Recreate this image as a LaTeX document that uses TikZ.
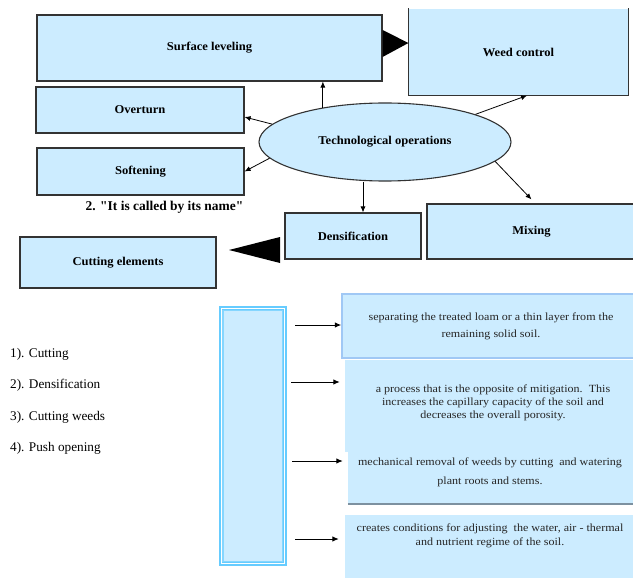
\documentclass[tikz,border=0pt]{standalone}
\usepackage{fontspec}
\setmainfont{Liberation Serif}
\usetikzlibrary{arrows.meta}
\usetikzlibrary{shapes.geometric}
\usepackage{xcolor}
\definecolor{skyFill}{RGB}{204,236,255}
\definecolor{frameBlue}{RGB}{102,204,255}
\definecolor{edgeBlue}{RGB}{160,200,245}
\definecolor{shadeGray}{RGB}{125,145,160}

\begin{document}
\begin{tikzpicture}[x=1bp,y=-1bp,
    opbox/.style={draw=black!80, line width=1.1bp, fill=skyFill, inner sep=0pt,
        font=\bfseries\fontsize{12}{14}\selectfont\addfontfeature{FakeStretch=1.05}},
    thinarr/.style={-{Latex[length=6bp,width=5bp]}, line width=0.8bp},
    listarr/.style={-{Latex[length=6.5bp,width=5.5bp]}, line width=1bp},
    desc/.style={fill=skyFill, inner sep=0pt},
    desctext/.style={align=center, inner sep=0pt, text=black!85,
        font=\fontsize{11}{13}\selectfont\addfontfeature{FakeStretch=1.1}},
    listtext/.style={anchor=west, inner sep=0pt, font=\fontsize{13.3}{15}\selectfont}]
    \useasboundingbox (0,0) rectangle (633,578);

        % operations
        \node[opbox, minimum width=345bp, minimum height=66bp] (surf) at (209.5,48) {Surface leveling};
        \node[opbox, draw=none, minimum width=219bp, minimum height=86bp] (weed) at (518.5,52) {Weed control};
        \draw[draw=black!80, line width=1.1bp] (weed.north west) -- (weed.south west) -- (weed.south east) -- (weed.north east);
        \node[opbox, minimum width=208bp, minimum height=46bp] (over) at (140,110) {Overturn};
        \node[opbox, minimum width=207bp, minimum height=47bp] (soft) at (140.5,171.5) {Softening};
        \node[opbox, ellipse, minimum width=252bp, minimum height=78bp] (ops) at (385,142) {Technological operations};
        \node[opbox, minimum width=136bp, minimum height=46bp] (dens) at (353,236) {Densification};
        \node[opbox, minimum width=209bp, minimum height=55bp] (mix) at (531.5,231.5) {Mixing};
        \node[opbox, minimum width=196bp, minimum height=51bp] (cut) at (118,262.5) {Cutting elements};
        \node[inner sep=0pt, font=\bfseries\fontsize{13.5}{15}\selectfont] (callname) at (164.5,207) {2. \textquotedbl It is called by its name\textquotedbl};

        % big heads
        \fill (surf.east |- 0,30) -- (surf.east |- 0,57) -- (weed.west |- 0,43) -- cycle;
        \fill (280,237) -- (280,263) -- (229,250) -- cycle;

        \draw[thinarr] (ops.151) -- (ops.151 |- surf.south);
        \draw[thinarr] (ops.171) -- ([yshift=-7bp]over.east);
        \draw[thinarr] (ops.188) -- (soft.east);
        \draw[thinarr] (ops.17) -- ([xshift=8.5bp]weed.south);
        \draw[thinarr] (ops.350) -- ([yshift=4bp]mix.north);
        \coordinate (densTop) at ([xshift=10bp]dens.north);
        \draw[thinarr] (ops.south -| densTop) -- (densTop);

        % list
        \node[listtext] (itemCut) at (10,354) {1). Cutting};
        \node[listtext] (itemDens) at (10,385) {2). Densification};
        \node[listtext] (itemWeeds) at (10,417) {3). Cutting weeds};
        \node[listtext] (itemPush) at (10,448) {4). Push opening};

        \node[draw=frameBlue, line width=4.5bp, fill=skyFill, minimum width=64bp, minimum height=255.5bp, inner sep=0pt] (stack) at (252.75,436) {};
        \draw[white, line width=1.1bp] ([shift={(2.9bp,-2.9bp)}]stack.north west) rectangle ([shift={(-2.9bp,2.9bp)}]stack.south east);
        \draw[frameBlue!80, line width=1.2bp] ([shift={(4.4bp,-4.4bp)}]stack.north west) rectangle ([shift={(-4.4bp,4.4bp)}]stack.south east);

        % descriptions
        \node[desc, draw=edgeBlue, line width=1.5bp, minimum width=298bp, minimum height=64bp] (descSep) at (491,326) {};
        \node[desc, minimum width=295bp, minimum height=92bp] (descDens) at (492.5,406) {};
        \node[desc, minimum width=292bp, minimum height=52bp] (descWeed) at (494,477.5) {};
        \draw[shadeGray, line width=2bp] (descWeed.south west) -- (descWeed.south east);
        \node[desc, minimum width=295bp, minimum height=65bp] (descRegime) at (492.5,547.5) {};

        \node[desctext] (sepText) at (491,326.5) {separating the treated loam or a thin layer from the\\[4bp] remaining solid soil.};
        \node[desctext] (densText) at (493,403) {a process that is the opposite of mitigation.\ \ This\\ increases the capillary capacity of the soil and\\ decreases the overall porosity.};
        \node[desctext] (weedText) at (490,472.5) {mechanical removal of weeds by cutting\ \ and watering\\[6bp] plant roots and stems.};
        \node[desctext] (regimeText) at (490,536) {creates conditions for adjusting\ \ the water, air - thermal\\[1bp] and nutrient regime of the soil.};

        \coordinate (tail1) at (295,325);
        \draw[listarr] (tail1) -- (tail1 -| descSep.west);
        \coordinate (tail2) at (291,382);
        \draw[listarr, shorten >=5bp] (tail2) -- (tail2 -| descDens.west);
        \coordinate (tail3) at (292,461);
        \draw[listarr, shorten >=5bp] (tail3) -- (tail3 -| descWeed.west);
        \coordinate (tail4) at (295,539);
        \draw[listarr, shorten >=6bp] (tail4) -- (tail4 -| descRegime.west);

\end{tikzpicture}
\end{document}
